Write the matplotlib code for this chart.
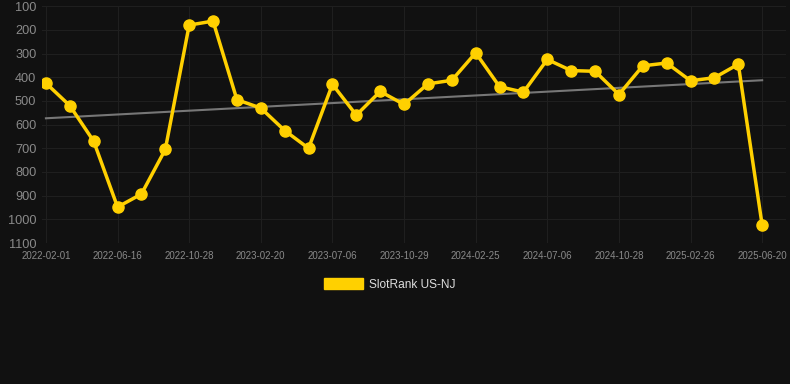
import numpy as np
import matplotlib
matplotlib.use("Agg")
import matplotlib.pyplot as plt
from matplotlib.patches import Patch

plt.rcParams['font.family'] = ['Liberation Sans', 'DejaVu Sans']

# ticks shown every third point
tick_labels = ["2022-02-01", "2022-06-16", "2022-10-28", "2023-02-20", "2023-07-06",
               "2023-10-29", "2024-02-25", "2024-07-06", "2024-10-28", "2025-02-26",
               "2025-06-20"]
ranks = [425, 520, 670, 948, 893, 705, 180, 163, 495, 530,
         625, 700, 430, 560, 460, 515, 428, 413, 297, 440,
         463, 325, 372, 375, 473, 352, 340, 415, 402, 345,
         1025]
series_name = "SlotRank US-NJ"

bg = "#111111"
yellow = "#FFD000"

x = np.arange(len(ranks))
fig = plt.figure(figsize=(7.9, 3.84), dpi=100, facecolor=bg)
ax = fig.add_axes([0.053, 0.367, 0.942, 0.617])
ax.set_facecolor(bg)

# trend line
k, b = np.polyfit(x, ranks, 1)
ax.plot(x, k * x + b, color="#777777", lw=1.5, zorder=2)

ax.plot(x, ranks, color=yellow, lw=2.5, marker="o", ms=8, zorder=3)

ax.set_ylim(1100, 100)
ax.set_yticks(range(100, 1101, 100))
ax.set_xlim(-0.17, 31.0)
ax.set_xticks(x[::3])
ax.set_xticklabels(tick_labels)

ax.grid(True, color="#1f1f1f", lw=0.8)
ax.set_axisbelow(True)
for s in ax.spines.values():
    s.set_visible(False)
ax.tick_params(axis="y", colors="#8a8a8a", labelsize=9.2, length=0, pad=4)
ax.tick_params(axis="x", colors="#8a8a8a", labelsize=7, length=0, pad=6)

handle = Patch(facecolor=yellow, edgecolor=yellow)
fig.legend([handle], [series_name], loc="center", bbox_to_anchor=(0.493, 0.26),
           frameon=False, labelcolor="#dddddd", fontsize=8.6,
           handlelength=3.3, handleheight=1.1, handletextpad=0.5)

fig.savefig("out.png", dpi=100, facecolor=bg)
